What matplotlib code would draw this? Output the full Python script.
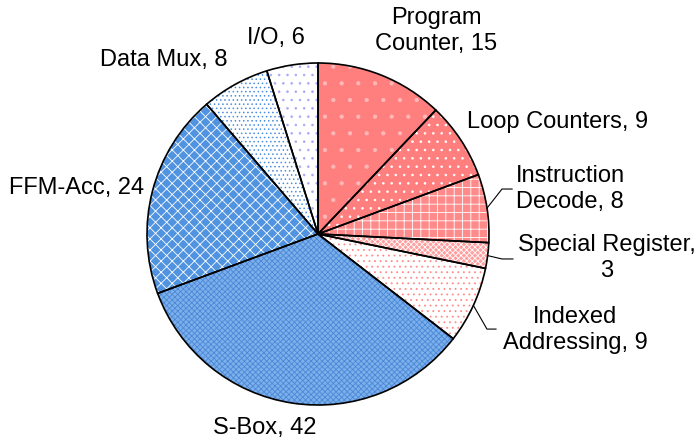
import matplotlib.pyplot as plt
import numpy as np

plt.rcParams['font.family'] = ['Liberation Sans', 'DejaVu Sans']
plt.rcParams['hatch.linewidth'] = 0.6

# area breakdown
labels = ["Program\nCounter, 15", "Loop Counters, 9", "Instruction\nDecode, 8",
          "Special Register,\n3", "Indexed\nAddressing, 9", "S-Box, 42",
          "FFM-Acc, 24", "Data Mux, 8", "I/O, 6"]
values = [15, 9, 8, 3, 9, 42, 24, 8, 6]

# fill styles per slice
faces = ['#FF7F7F', '#FF7F7F', '#FF8A8A', '#FF9F9F', 'white',
         '#7DB0EA', '#5093E0', 'white', 'white']
hatch_colors = ['#FFB8B8', 'white', 'white', 'white', '#FF8A8A',
                '#4A88D8', 'white', '#4A8EE0', '#A9A9F2']
hatches = ['.', '..', '++', 'xxxxxx', '...', 'xxxxxx', 'xxx', '....', '..']

# label layout (axes data units, pie radius = 1)
label_pos = [(0.69, 1.187), (0.871, 0.655), (1.158, 0.263), (1.69, -0.14),
             (1.503, -0.561), (-0.31, -1.134), (-1.018, 0.269),
             (-0.90, 1.018), (-0.246, 1.146)]
label_ha = ['center', 'left', 'left', 'center', 'center', 'center',
            'right', 'center', 'center']
# leader lines: slice index -> (elbow x, elbow y, end x)
leaders = {2: (1.076, 0.263, 1.135), 3: (1.076, -0.146, 1.140),
           4: (0.988, -0.556, 1.041)}

fig = plt.figure(figsize=(6.99, 4.42), dpi=100)
cx, cy, r = 318, 234, 171
ax = fig.add_axes([(cx - r) / 699, (442 - cy - r) / 442, 2 * r / 699, 2 * r / 442])

wedges, _ = ax.pie(values, colors=faces, startangle=90, counterclock=False,
                   radius=1, wedgeprops=dict(linewidth=0))
for w, h, hc in zip(wedges, hatches, hatch_colors):
    w.set_hatch(h)
    w.set_edgecolor(hc)
# outlines on top
ax.pie(values, startangle=90, counterclock=False, radius=1,
       wedgeprops=dict(fill=False, edgecolor='black', linewidth=1.2))

for lab, (x, y), ha in zip(labels, label_pos, label_ha):
    ax.text(x, y, lab, ha=ha, va='center', multialignment=ha,
            fontsize=17, clip_on=False)

# leader lines from slice rim
total = sum(values)
cum = np.cumsum([0] + values)
for i, (ex, ey, endx) in leaders.items():
    mid = 90 - (cum[i] + values[i] / 2) / total * 360
    rx, ry = np.cos(np.radians(mid)), np.sin(np.radians(mid))
    ax.plot([rx, ex, endx], [ry, ey, ey], color='black', linewidth=0.8,
            clip_on=False)

ax.set_xlim(-1, 1)
ax.set_ylim(-1, 1)
ax.axis('off')
fig.savefig('out.png', dpi=100)
